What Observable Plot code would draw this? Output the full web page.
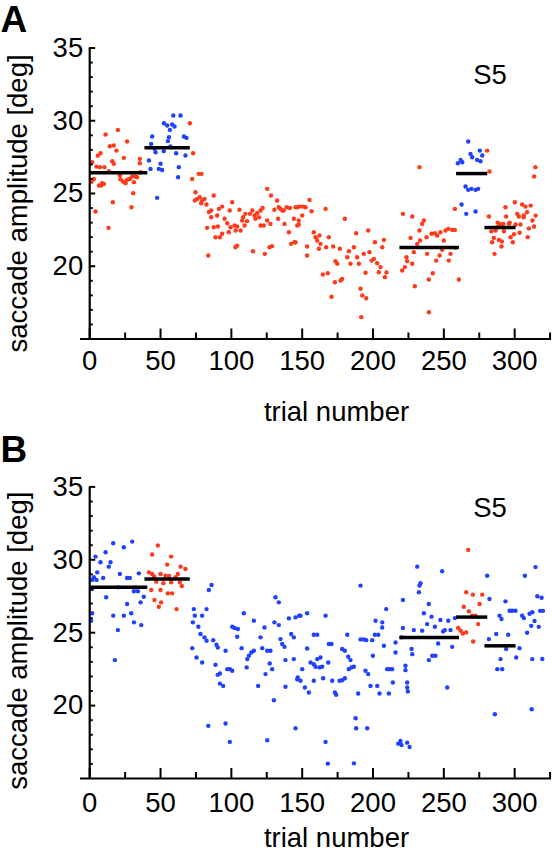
<!DOCTYPE html>
<html><head><meta charset="utf-8">
<script src="https://cdn.jsdelivr.net/npm/d3@7"></script>
<script src="https://cdn.jsdelivr.net/npm/@observablehq/plot@0.6"></script>
<style>
body{margin:0;background:#fff;}
#chart{width:552px;height:853px;overflow:hidden;}
#chart svg{display:block;}
</style></head><body><div id="chart"></div>
<script>
// ---- ticks & labels ----
const xMajor = [0, 50, 100, 150, 200, 250, 300];
const xMinor = [25, 75, 125, 175, 225, 275, 325];
const yMajor = [20, 25, 30, 35];
const yMinor = [16,17,18,19,21,22,23,24,26,27,28,29,31,32,33,34];
const xTitle = "trial number";
const yTitle = "saccade amplitude [deg]";
const subject = "S5";

// ---- panel A data: [trial, amplitude] ----
const aRed = [
[1.7,27.15],[2.9,26.0],[1.3,25.8],[4.1,23.76],[4.8,26.85],[5.7,27.6],[7.6,27.77],[8.1,25.55],[10,25.66],[7.2,26.81],[10.4,26.81],[11.2,29.05],[13.3,22.64],[14.2,28.25],[13.5,26.53],[15.9,27.22],[16.3,24.4],[17,28.3],[17,27.04],[18.9,27.95],[19.9,29.37],[21.3,26.24],[21.7,25.98],[24.1,27.45],[23.6,25.82],[25.3,25.71],[26.4,28.57],[26.4,25.94],[28.3,26.0],[29.5,24.06],[30,26.17],[30.7,25.02],[31.2,25.78],[32.3,26.17],[33.5,26.12],[35.4,27.38],[35.4,27.08],[35.9,26.46],[8.8,25.7],[6.5,25.55],
[70.7,29.83],[73,27.77],[77,26.35],[78.9,26.35],[72.3,26.0],[74.7,25.09],[74.2,24.52],[75.9,24.63],[77.7,24.75],[79.4,24.52],[81,24.63],[78.7,24.33],[82.4,24.24],[87.6,24.86],[84.1,23.72],[85.7,23.37],[82.9,22.64],[87.6,22.68],[90.5,22.73],[88.8,21.99],[91.2,23.94],[93.5,24.1],[95.2,23.26],[97.1,22.96],[100.6,24.4],[98.2,22.34],[99.4,22.68],[102.2,22.8],[104.1,22.73],[103,22.46],[105.7,23.88],[106.5,22.46],[108.3,23.37],[109.9,23.6],[111.1,23.1],[109.3,22.8],[83.7,20.74],[102.9,21.31],[104.1,21.42],[115.2,21.03],[113.1,23.6],[114.8,23.83],[116.4,23.49],[118.2,23.65],[120.6,23.83],[122.1,24.01],[120.6,22.8],[122.9,22.8],[123.6,20.85],[125.3,25.32],[128,24.86],[126.9,21.31],[128.7,21.38],[130.4,23.88],[132.3,24.52],[133,23.26],[134.7,23.94],[135.9,23.83],[137.5,22.91],[139,24.06],[140.6,22.34],[142.2,21.54],[144.6,21.65],[144.1,23.26],[146.4,24.06],[147.6,22.87],[93.5,22.23],[85.8,23.83],[90,23.49],[98.9,23.83],[107.6,23.14],[117,23.26],[119.5,23.37],[133.5,24.06],[137,23.83],[141.3,24.0],[125.3,23.14],[127.6,22.91],[91.9,21.99],
[145.3,24.06],[148.1,24.1],[150.5,24.1],[152.4,24.06],[155.2,24.56],[156.6,23.78],[150,23.49],[147.6,23.14],[146.5,22.8],[145.3,21.65],[153.5,21.36],[153.5,20.74],[158.2,22.34],[159.4,21.99],[160.6,21.77],[162.2,22.11],[162.9,21.54],[161.8,21.2],[166.5,23.94],[166.9,21.31],[168.8,21.99],[171.9,21.36],[173.5,20.35],[174.7,20.17],[164.6,19.43],[168.1,19.52],[173.1,18.9],[177.1,19.02],[178.2,19.13],[176.6,21.2],[180.1,23.26],[181.8,20.62],[183,21.03],[184.1,20.17],[186.5,21.31],[188.1,22.27],[188.8,20.62],[190,20.17],[191.2,18.45],[192.4,17.99],[191.7,16.5],[193.5,20.85],[194.7,19.55],[195.2,17.8],[196.6,22.46],[197.5,20.97],[199,20.39],[200.6,20.51],[201.3,21.65],[202.9,20.21],[204.1,19.59],[205.3,19.94],[206.5,21.31],[207.7,21.81],[208.4,19.25],[209.5,19.57],[170.7,17.9],
[221.1,23.6],[227.7,23.42],[226.5,21.95],[220.6,19.71],[222.5,19.94],[224.1,20.35],[223.6,20.62],[227.7,20.17],[229.5,18.63],[231.2,21.54],[232.8,22.46],[234.7,22.91],[235.9,23.14],[233.2,21.77],[237.8,21.99],[238.2,20.85],[239.4,16.84],[239.4,19.09],[241.3,22.23],[242.2,19.52],[243.7,22.27],[244.6,20.39],[245.3,22.11],[247.6,22.34],[247,20.74],[248.8,21.13],[250,21.77],[251.2,22.46],[253.1,22.57],[253.5,20.39],[254.7,20.85],[255.9,22.5],[257.8,22.5],[258.2,21.26],[260.6,19.09],[232.8,26.81],[228.8,20.97],[257.8,23.94],
[280.6,27.95],[282.2,26.51],[281.8,23.42],[286.5,22.46],[287.6,22.68],[285.8,20.85],[284.1,21.65],[285.3,21.95],[288.8,21.81],[290.7,21.36],[292.4,22.41],[293.5,24.06],[294,23.42],[295.9,22.91],[297.1,21.99],[298.7,21.65],[300.1,24.4],[301.8,23.6],[302.9,23.42],[304.1,22.87],[305.3,24.24],[306.5,23.49],[300.6,22.87],[308.7,23.71],[309.2,22.0],[311.3,24.17],[312.5,23.14],[313.7,22.73],[314.8,23.48],[307.6,24.1],[306.3,23.37],[314.6,26.81],[313.7,26.17],[289.5,22.9],[296.5,23.0],[283.5,22.4],[291,21.7],[310,22.6],[299.5,22.2],[303.5,22.3],[288,23.0],[292,22.9]
];
const aBlue = [
[59,30.36],[64.1,30.36],[52.4,29.83],[54.7,29.67],[58.2,29.74],[56.6,29.37],[59.9,29.6],[44.1,28.92],[55.9,28.87],[66.5,28.92],[68.3,28.82],[43.4,28.41],[46.5,27.84],[52.3,27.91],[57,28.23],[61,27.77],[67.6,27.61],[41.8,27.27],[50,27.04],[48.8,26.69],[51.1,26.62],[42.9,26.69],[62.9,26.81],[62.4,26.12],[47.6,24.7],[45.8,28.07],[55.2,28.6],
[267.2,28.57],[259.9,27.08],[261.8,27.31],[263,27.15],[268.8,27.72],[270,27.49],[273.5,27.31],[275.4,27.95],[277.1,27.61],[275.9,27.22],[265.3,25.48],[267.2,25.25],[269.5,25.32],[272.4,25.25],[274.2,25.32],[262.5,24.24],[265.8,23.6],[272.4,23.76]
];
// mean lines: [start trial, end trial, mean]
const aMeans = [[0,41,26.42],[39,71,28.14],[219,261,21.29],[259,281,26.37],[279,301,22.66]];

// ---- panel B data ----
const bRed = [
[48.1,30.98],[44.1,30.36],[57.5,30.22],[54.7,29.67],[64.1,29.53],[67.6,29.37],[41.8,29.14],[44.1,29.03],[50,29.03],[45.5,28.85],[53.5,28.91],[62.2,29.03],[60.6,28.8],[57.5,28.46],[63.6,28.46],[43.4,27.93],[50,27.93],[55.1,27.7],[58.2,27.7],[45.7,27.24],[50.4,27.08],[48.8,26.78],[61.3,26.62],[56,28.9],[65,28.2],[47,28.5],[52,28.4],
[267.2,30.68],[265.8,27.77],[270.5,27.61],[277.1,27.61],[275.2,26.97],[264.1,26.78],[267.7,26.46],[272.4,26.17],[274.2,25.59],[260.1,25.32],[261.8,25.14],[263.4,24.95],[265.8,25.02],[270.7,24.4],[270,26.17]
];
const bBlue = [
[16.6,31.14],[24.1,30.86],[30,31.25],[4.1,30.22],[11.2,30.52],[7.6,29.83],[14.7,29.83],[13.5,29.53],[5.3,29.14],[2.9,28.8],[1.7,28.62],[4.8,28.62],[9.5,28.75],[21.3,29.03],[26.4,28.75],[28.3,28.75],[34.7,29.07],[19.9,28.11],[32.3,28.11],[31.2,27.84],[34,27.84],[11.6,27.43],[38.2,27.47],[35.9,27.08],[26.4,26.97],[1.7,26.33],[16.6,26.17],[24.1,26.17],[29.3,26.33],[31.2,25.71],[36.4,25.52],[19.9,25.18],[1,25.82],[17.8,23.12],[1.7,28.0],
[86,28.27],[84.1,27.93],[73.5,26.62],[82.5,26.62],[74.2,26.17],[79.4,26.17],[72.8,25.71],[76.7,25.41],[78.2,24.91],[81,24.68],[82.5,24.45],[87.2,24.49],[89.5,24.17],[90.4,23.99],[72.4,23.94],[75.4,23.3],[79.4,22.96],[88.8,22.8],[91.9,22.2],[90.4,22.11],[91.9,21.51],[94.2,21.35],[95.9,23.76],[97.1,22.5],[99,22.5],[100.6,22.39],[100.6,25.41],[102.2,25.32],[104.6,25.25],[104.1,24.72],[107.2,23.94],[108.8,26.33],[111.2,23.19],[112.4,23.42],[114.1,23.64],[110.8,22.62],[115.9,25.82],[115.9,23.76],[118.9,21.35],[120.6,24.68],[121.8,23.94],[123.4,25.36],[124.1,22.16],[125.3,23.76],[127.6,23.76],[127.1,22.89],[128.8,22.5],[130,20.37],[131.1,27.43],[133.5,27.08],[130.4,25.71],[133.5,25.52],[134.7,24.56],[135.9,24.22],[137.5,24.03],[138.2,23.12],[138.2,21.29],[140.6,25.98],[142.2,24.91],[144.1,24.68],[144.1,23.19],[145.3,26.05],[146.9,21.93],[147.9,26.17],[83.7,18.61],[95.9,18.77],[98.9,17.51],[125.3,17.62],[145.3,18.45],
[148.8,26.17],[153.5,26.33],[166.5,26.17],[158.2,24.86],[160.6,24.86],[153.5,23.92],[150,22.5],[155.9,22.96],[158.2,22.84],[160.6,23.19],[162.9,23.3],[162.2,22.62],[159.4,22.66],[164.1,22.66],[168.4,22.96],[146.5,21.81],[148.8,21.7],[151.9,21.24],[154.7,20.9],[158.2,21.7],[164.8,21.88],[171.2,21.7],[173.1,20.9],[174,20.74],[176.4,21.7],[178.2,21.74],[180.1,21.88],[168.8,24.22],[170.7,24.22],[178.2,23.88],[180.1,23.76],[181.8,24.86],[182.9,22.5],[184.8,22.62],[186.5,22.66],[184.1,23.12],[182.5,23.35],[189.5,20.83],[191.2,28.23],[191.2,24.54],[193.5,24.54],[195.2,24.49],[194.7,22.39],[196.6,22.16],[198.2,21.35],[199.4,24.49],[199.9,23.42],[201.3,24.86],[201.8,25.82],[203.7,24.86],[203,21.35],[204.6,20.83],[206.5,25.71],[206.5,25.36],[207.7,24.1],[209.3,26.62],[210,22.5],[211.6,22.5],[213.5,22.5],[211.2,20.83],[214,21.58],[215.9,24.33],[215.9,23.64],[221.1,27.24],[221.1,25.32],[220.1,24.68],[222.9,22.73],[222.9,22.43],[224.1,21.58],[224.1,21.24],[224.6,20.97],[227.2,23.88],[227.7,23.53],[228.8,25.18],[231.2,29.53],[232.8,28.23],[233.5,28.39],[232.4,27.77],[235.9,26.33],[234.7,25.14],[238.2,25.59],[239.4,26.97],[239.4,23.12],[241.3,26.1],[241.8,23.42],[243.7,25.41],[244.1,23.42],[246,24.26],[247.6,25.87],[248.8,29.21],[249.5,25.09],[250.7,25.18],[252.4,21.24],[253.1,25.82],[254.7,25.18],[255.9,24.03],[257.8,26.0],[187.7,19.13],[188.1,18.45],[195.9,18.45],[166.5,17.51],[168.1,16.02],[186.5,16.04],[217.8,17.39],[219.4,17.57],[220.1,17.3],[224.1,17.46],[225.8,17.16],
[280.6,28.91],[282.2,27.31],[281.8,24.56],[286,19.41],[287,24.91],[287.7,22.5],[291.2,22.5],[290,23.19],[289.3,26.17],[290.7,25.94],[293.5,27.15],[294,23.88],[295.4,24.86],[296.4,26.51],[298.2,26.51],[300.6,26.51],[301.1,23.3],[303.4,23.94],[305.3,26.17],[307.2,28.91],[306.5,26.0],[314.7,29.5],[316,27.5],[319,27.4],[318,26.5],[320,26.5],[310.5,26.3],[312.5,26.4],[311.7,25.47],[308.8,25.0],[314,25.8],[317,25.4],[312.4,23.19],[312,19.75],[319.5,23.2]
];
const bMeans = [[0,41,28.11],[39,71,28.68],[219,261,24.67],[259,281,26.07],[279,301,24.1]];

const RED = "#ff3a1a", BLUE = "#1f42ff";
const FONT = "'Liberation Sans', Arial, Helvetica, sans-serif";

function panel(o) {
  const W = 552, ML = 80, MR = 1;
  const xDom = [-6.5, 326], yDom = [15, 35];
  const pxX = (W - ML - MR) / (xDom[1] - xDom[0]);
  const pxY = (o.height - o.marginTop - o.marginBottom) / (yDom[1] - yDom[0]);
  const up = px => yDom[0] + px / pxY;
  const right = px => px / pxX;
  const fs = 27.5;
  return Plot.plot({
    width: W, height: o.height,
    marginLeft: ML, marginRight: MR, marginTop: o.marginTop, marginBottom: o.marginBottom,
    x: {domain: xDom, axis: null},
    y: {domain: yDom, axis: null},
    style: {fontFamily: FONT, fontSize: fs + "px", color: "black", background: "white", overflow: "visible"},
    marks: [
      Plot.dot(o.red, {x: d => d[0], y: d => d[1], r: 2.2, fill: RED}),
      Plot.dot(o.blue, {x: d => d[0], y: d => d[1], r: 2.2, fill: BLUE}),
      Plot.ruleY(o.means, {x1: d => d[0], x2: d => d[1], y: d => d[2], stroke: "black", strokeWidth: 3.5}),
      Plot.ruleY([yDom[0]], {stroke: "black", strokeWidth: 2.2}),
      Plot.ruleX([0], {y1: yDom[0], y2: yDom[1], stroke: "black", strokeWidth: 2.2}),
      Plot.ruleX(xMajor, {x: d => d, y1: yDom[0], y2: up(10), stroke: "black", strokeWidth: 2}),
      Plot.ruleX(xMinor, {x: d => d, y1: yDom[0], y2: up(6), stroke: "black", strokeWidth: 2}),
      Plot.ruleY(yMajor, {y: d => d, x1: 0, x2: right(6), stroke: "black", strokeWidth: 2}),
      Plot.ruleY(yMinor, {y: d => d, x1: 0, x2: right(3.5), stroke: "black", strokeWidth: 2}),
      Plot.text(xMajor, {x: d => d, y: yDom[0], text: d => String(d), dy: o.tickDy, lineAnchor: "bottom", fontSize: fs, fill: "black"}),
      Plot.text(yMajor, {x: 0, y: d => d, text: d => String(d), dx: -6.5, textAnchor: "end", lineAnchor: "middle", fontSize: fs, fill: "black"}),
      Plot.text([xTitle], {text: d => d, frameAnchor: "bottom", textAnchor: "middle", dx: 20.5, dy: o.xTitleDy, lineAnchor: "bottom", fontSize: fs, fill: "black"}),
      Plot.text([yTitle], {text: d => d, frameAnchor: "left", rotate: -90, textAnchor: "middle", dx: -53.6, dy: o.yTitleDy, lineAnchor: "bottom", fontSize: fs, fill: "black"}),
      Plot.text([subject], {text: d => d, frameAnchor: "top-right", textAnchor: "middle", dx: -61.5, dy: o.subjectDy, lineAnchor: "bottom", fontSize: fs, fill: "black"}),
      Plot.text([o.letter], {text: d => d, frameAnchor: "top-left", dx: -ML, dy: o.letterDy, textAnchor: "start", lineAnchor: "bottom", fontSize: 37, fontWeight: "bold", fill: "black"})
    ]
  });
}

const chart = document.getElementById("chart");
chart.append(panel({letter: "A", red: aRed, blue: aBlue, means: aMeans,
  height: 430, marginTop: 47.5, marginBottom: 91.5,
  tickDy: 31, xTitleDy: 82.2, yTitleDy: 10, subjectDy: 35.8, letterDy: -16.5}));
chart.append(panel({letter: "B", red: bRed, blue: bBlue, means: bMeans,
  height: 423, marginTop: 56.4, marginBottom: 75,
  tickDy: 33.7, xTitleDy: 68, yTitleDy: 8, subjectDy: 30.3, letterDy: -24.7}));
</script></body></html>
